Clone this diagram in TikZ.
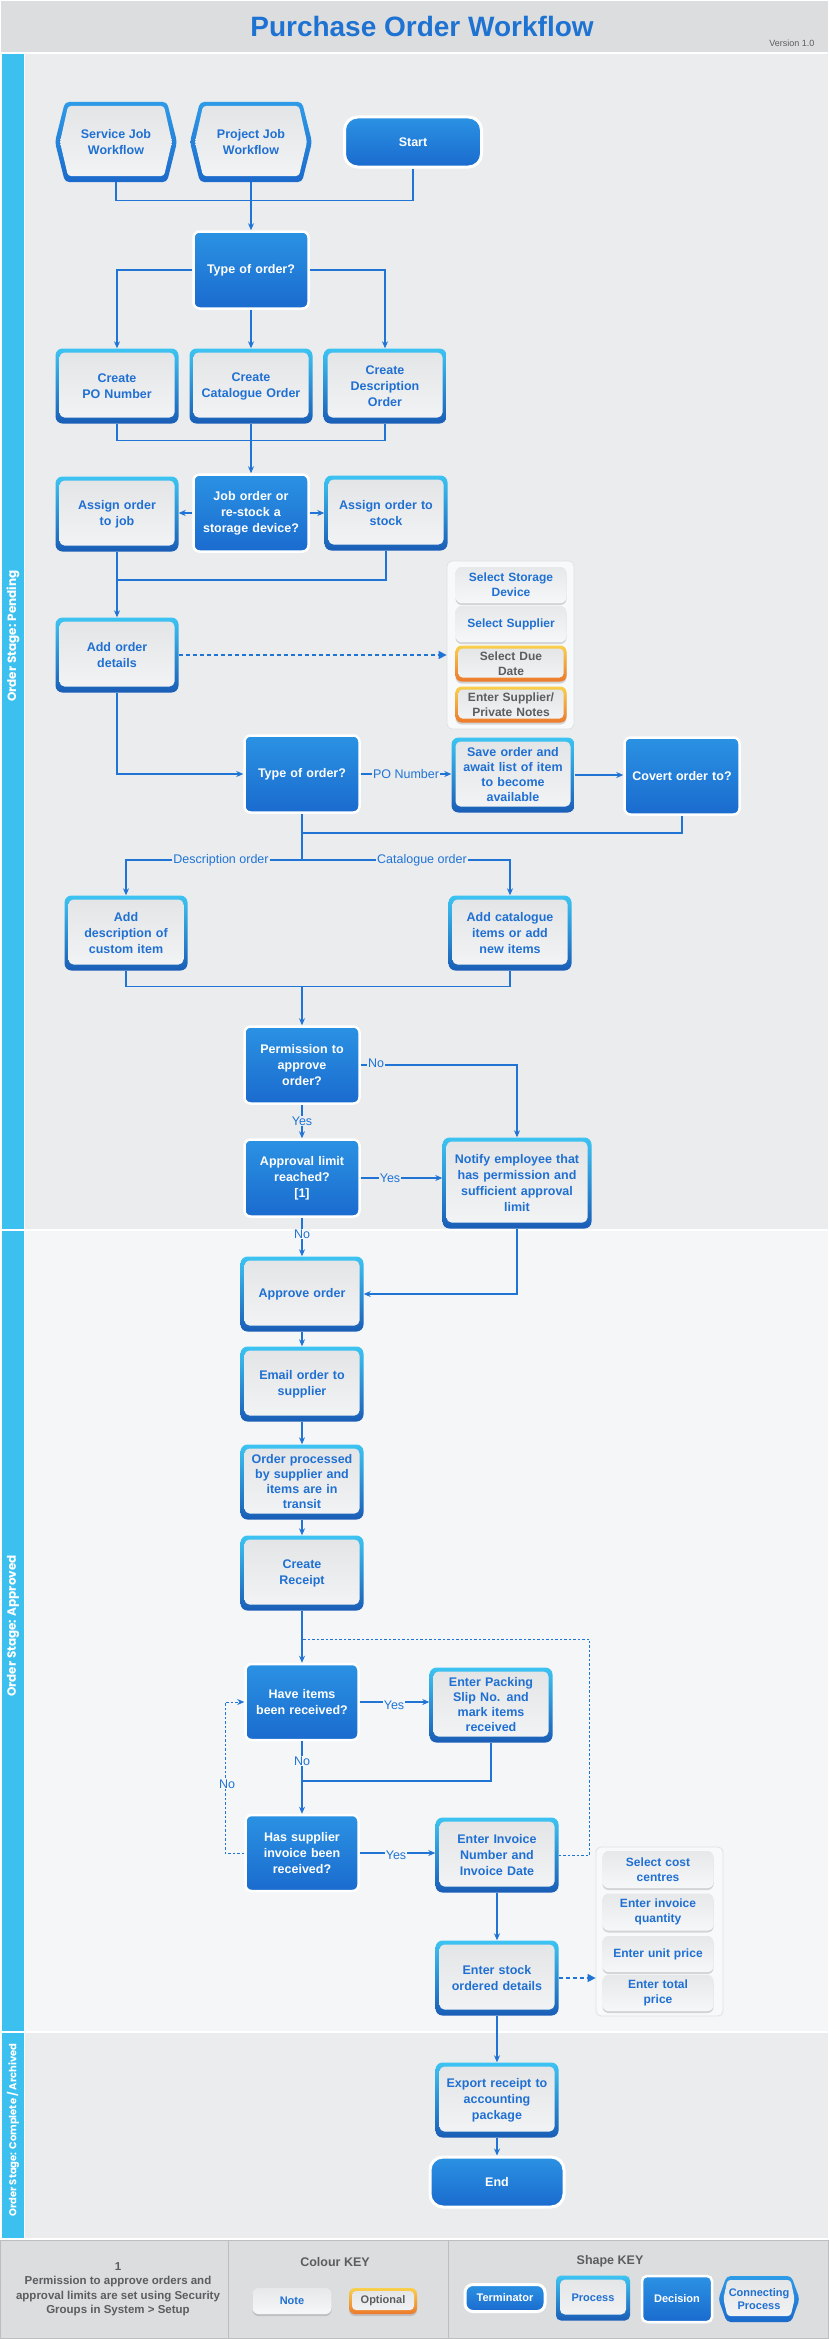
\documentclass[tikz,border=0pt]{standalone}
\usepackage{fontspec}
\setmainfont{Liberation Sans}
\newfontfamily\lanefont{Poppins}
\usetikzlibrary{arrows.meta,shapes.symbols,shadows,calc}
\definecolor{lineBlue}{HTML}{1F74D6}
\definecolor{titleBlue}{HTML}{1E73D2}
\definecolor{procText}{HTML}{1F70D2}
\definecolor{bordTop}{HTML}{3DC4F2}
\definecolor{bordBot}{HTML}{1A5DB6}
\definecolor{innerTop}{HTML}{E3E4E6}
\definecolor{innerBot}{HTML}{F3F4F6}
\definecolor{decTop}{HTML}{2B92E3}
\definecolor{decBot}{HTML}{1A6BCE}
\definecolor{laneBar}{HTML}{3BC0F0}
\definecolor{laneA}{HTML}{EBECEE}
\definecolor{laneB}{HTML}{F5F6F8}
\definecolor{headBg}{HTML}{DCDDDF}
\definecolor{keyLine}{HTML}{BDBEC0}
\definecolor{grayText}{HTML}{5B5D60}
\definecolor{noteTop}{HTML}{E7E8EA}
\definecolor{noteBot}{HTML}{F6F7F8}
\definecolor{optTop}{HTML}{F9D04C}
\definecolor{optBot}{HTML}{EC7A2C}
\definecolor{hexTop}{HTML}{2E9BE8}
\definecolor{hexBot}{HTML}{1C6ACB}
\definecolor{boxBg}{HTML}{F8F9FA}
\definecolor{boxLine}{HTML}{E0E1E3}
\begin{document}
\begin{tikzpicture}[x=1pt,y=-1pt,
  proc/.style={rectangle, rounded corners=7pt, minimum width=123pt, minimum height=75pt,
    inner sep=2pt, text width=117pt, align=center, top color=bordTop, bottom color=bordBot,
    font=\fontsize{12.5}{16}\selectfont\bfseries, text=procText,
    path picture={\shade[rounded corners=5pt, top color=innerTop, bottom color=innerBot]
      ([xshift=4pt,yshift=-4pt]path picture bounding box.north west) rectangle
      ([xshift=-4pt,yshift=6pt]path picture bounding box.south east);}},
  dec/.style={rectangle, rounded corners=6pt, minimum width=115pt, minimum height=77pt,
    inner sep=2pt, text width=109pt, align=center, top color=decTop, bottom color=decBot,
    draw=white, line width=2.5pt, text=white, font=\fontsize{12.5}{16}\selectfont\bfseries},
  term/.style={rectangle, rounded corners=13pt, minimum width=137pt, minimum height=50pt,
    inner sep=2pt, align=center, top color=decTop, bottom color=decBot,
    draw=white, line width=3pt, text=white, font=\fontsize{12.5}{16}\selectfont\bfseries},
  hex/.style={signal, signal to=west and east, signal pointer angle=152, minimum width=122pt,
    minimum height=80pt, inner sep=2pt, rounded corners=4pt,
    top color=hexTop, bottom color=hexBot, text=procText, align=center,
    font=\fontsize{12.5}{16}\selectfont\bfseries,
    path picture={\shade[rounded corners=3pt, top color=innerTop, bottom color=innerBot]
      ($(path picture bounding box.north west)+(#1,-4pt)$) --
      ($(path picture bounding box.north east)+(-#1,-4pt)$) --
      ($(path picture bounding box.east)+(-5pt,0pt)$) --
      ($(path picture bounding box.south east)+(-#1,6pt)$) --
      ($(path picture bounding box.south west)+(#1,6pt)$) --
      ($(path picture bounding box.west)+(5pt,0pt)$) -- cycle;}},
  hex/.default=13pt,
  note/.style={rectangle, rounded corners=6pt, minimum width=111pt, minimum height=36pt,
    inner sep=1pt, text width=107pt, align=center, top color=noteTop, bottom color=noteBot,
    drop shadow={shadow xshift=0pt, shadow yshift=-2pt, opacity=0.3},
    text=procText, font=\fontsize{12}{15}\selectfont\bfseries},
  opt/.style={note, top color=optTop, bottom color=optBot, text=grayText,
    path picture={\shade[rounded corners=4pt, top color=innerTop, bottom color=innerBot]
      ([xshift=3pt,yshift=-3pt]path picture bounding box.north west) rectangle
      ([xshift=-3pt,yshift=4pt]path picture bounding box.south east);}},
  grp/.style={rectangle, rounded corners=5pt, fill=boxBg, draw=boxLine, line width=0.8pt},
  conn/.style={draw=lineBlue, line width=1.2pt},
  arr/.style={conn, -{Stealth[length=7pt,width=6pt]}},
  dashbig/.style={conn, line width=1.3pt, dash pattern=on 4pt off 3pt, -{Triangle[length=8pt,width=8pt]}},
  dashthin/.style={conn, line width=1pt, dash pattern=on 2.5pt off 2pt},
  lab/.style={fill=laneA, inner sep=1pt, text=lineBlue, font=\fontsize{12.5}{14}\selectfont},
  labB/.style={lab, fill=laneB},
  lanelab/.style={rotate=90, text=white, font=\lanefont\fontsize{12}{14}\selectfont\bfseries},
  keytext/.style={text=grayText, align=center, font=\fontsize{11.5}{14.5}\selectfont\bfseries}
]
\useasboundingbox (0,0) rectangle (829,2339);
\fill[white] (0,0) rectangle (829,2339);
% header
\fill[headBg] (1,1) rectangle (828,52);
\node[anchor=base, text=titleBlue, font=\fontsize{28}{30}\selectfont\bfseries] (title) at (422,37) {Purchase Order Workflow};
\node[anchor=base east, text=grayText, font=\fontsize{9}{10}\selectfont] (ver) at (818,47) {Version 1.0};
% lanes
\fill[laneA] (25,54) rectangle (828,1229);
\fill[laneBar] (2,54) rectangle (24,1229);
\fill[laneB] (25,1231) rectangle (828,2031);
\fill[laneBar] (2,1231) rectangle (24,2031);
\fill[laneA] (25,2033) rectangle (828,2238);
\fill[laneBar] (2,2033) rectangle (24,2238);
\node[lanelab] (lane1) at (13,636) {Order Stage: Pending};
\node[lanelab] (lane2) at (13,1626) {Order Stage: Approved};
\node[lanelab, font=\lanefont\fontsize{10}{12}\selectfont\bfseries] (lane3) at (13,2130) {Order Stage: Complete / Archived};
% key band
\fill[headBg] (0,2240) rectangle (829,2339);
\draw[keyLine, line width=1pt] (0.5,2240) rectangle (828.5,2338.5);
\draw[keyLine, line width=1pt] (228,2240) -- (228,2339);
\draw[keyLine, line width=1pt] (448,2240) -- (448,2339);

% ---- Lane 1 nodes
\node[hex] (svc) at (116,142) {Service Job\\Workflow};
\node[hex] (prj) at (251,142) {Project Job\\Workflow};
\node[term] (start) at (413,142) {Start};
\node[dec] (t1) at (251,270) {Type of order?};
\node[proc] (cpo) at (117,386) {Create\\PO Number};
\node[proc] (ccat) at (251,386) {Create\\Catalogue Order};
\node[proc] (cdesc) at (385,386) {Create\\Description\\Order};
\node[dec] (jor) at (251,513) {Job order or\\re-stock a\\storage device?};
\node[proc] (ajob) at (117,514) {Assign order\\to job};
\node[proc] (astk) at (386,513) {Assign order to\\stock};
\node[proc] (aod) at (117,655) {Add order\\details};
\node[grp, minimum width=127pt, minimum height=168pt] (ng1) at (510.5,645) {};
\node[note] (n1) at (511,585) {Select Storage\\Device};
\node[note] (n2) at (511,624) {Select Supplier};
\node[opt] (n3) at (511,663.5) {Select Due\\Date};
\node[opt] (n4) at (511,704.5) {Enter Supplier/\\Private Notes};
\node[dec] (t2) at (302,774) {Type of order?};
\node[proc, font=\fontsize{12.5}{15}\selectfont\bfseries] (save) at (513,775) {Save order and\\await list of item\\to become\\available};
\node[dec] (covert) at (682,776) {Covert order to?};
\node[proc] (adesc) at (126,933) {Add\\description of\\custom item};
\node[proc] (acat) at (510,933) {Add catalogue\\items or add\\new items};
\node[dec] (perm) at (302,1065) {Permission to\\approve\\order?};
\node[dec] (alim) at (302,1178) {Approval limit\\reached?\\{[1]}};
\node[proc, minimum width=149pt, minimum height=91pt, text width=143pt] (notify) at (517,1183) {Notify employee that\\has permission and\\sufficient approval\\limit};

% ---- Lane 2 nodes
\node[proc] (appr) at (302,1294) {Approve order};
\node[proc] (email) at (302,1384) {Email order to\\supplier};
\node[proc, font=\fontsize{12.5}{15}\selectfont\bfseries] (oproc) at (302,1482) {Order processed\\by supplier and\\items are in\\transit};
\node[proc] (crec) at (302,1573) {Create\\Receipt};
\node[dec, minimum width=112pt, minimum height=76pt] (have) at (302,1702) {Have items\\been received?};
\node[proc, font=\fontsize{12.5}{15}\selectfont\bfseries] (pack) at (491,1705) {Enter Packing\\Slip No. and\\mark items\\received};
\node[dec, minimum width=113pt, minimum height=76pt] (hasi) at (302,1853) {Has supplier\\invoice been\\received?};
\node[proc] (inv) at (497,1855) {Enter Invoice\\Number and\\Invoice Date};
\node[proc] (stock) at (497,1978) {Enter stock\\ordered details};
\node[grp, minimum width=127pt, minimum height=169pt] (cg) at (659.5,1931.5) {};
\node[note, minimum height=37pt] (c1) at (658,1869.5) {Select cost\\centres};
\node[note, minimum height=37pt] (c2) at (658,1912) {Enter invoice\\quantity};
\node[note, minimum height=36pt] (c3) at (658,1954) {Enter unit price};
\node[note, minimum height=36pt] (c4) at (658,1993) {Enter total\\price};

% ---- Lane 3 nodes
\node[proc] (exp) at (497,2100) {Export receipt to\\accounting\\package};
\node[term, minimum width=134pt] (end) at (497,2182) {End};

% ---- Key
\node[keytext] (foot) at (118,2289) {1\\Permission to approve orders and\\approval limits are set using Security\\Groups in System > Setup};
\node[keytext, font=\fontsize{12.5}{14}\selectfont\bfseries] (ckey) at (335,2262) {Colour KEY};
\node[note, minimum width=79pt, minimum height=26pt, text width=75pt, font=\fontsize{11}{13}\selectfont\bfseries] (nk) at (292,2301) {Note};
\node[opt, minimum width=68pt, minimum height=26pt, text width=64pt, font=\fontsize{11}{13}\selectfont\bfseries] (ok) at (383,2301) {Optional};
\node[keytext, font=\fontsize{12.5}{14}\selectfont\bfseries] (skey) at (610,2261) {Shape KEY};
\node[term, minimum width=80pt, minimum height=27pt, rounded corners=8pt, font=\fontsize{11}{13}\selectfont\bfseries] (tk) at (505,2298) {Terminator};
\node[proc, minimum width=74pt, minimum height=45pt, text width=70pt, rounded corners=5pt, font=\fontsize{11}{13}\selectfont\bfseries] (pk) at (593,2298) {Process};
\node[dec, minimum width=70pt, minimum height=46pt, text width=64pt, rounded corners=5pt, font=\fontsize{11}{13}\selectfont\bfseries] (dk) at (677,2299) {Decision};
\node[hex=9pt, minimum width=72pt, minimum height=46pt, signal pointer angle=140, font=\fontsize{11}{13}\selectfont\bfseries] (hk) at (759,2299) {Connecting\\Process};

% ---- Connectors lane 1
\draw[conn] (svc.south) -- ++(0,18) -| (start.south);
\draw[arr] (prj.south) -- (t1.north);
\draw[arr] (t1.west) -| (cpo.north);
\draw[arr] (t1.south) -- (ccat.north);
\draw[arr] (t1.east) -| (cdesc.north);
\draw[conn] (cpo.south) -- ++(0,17) -| (cdesc.south);
\draw[arr] (ccat.south) -- (jor.north);
\draw[arr] (jor.west) -- (jor.west -| ajob.east);
\draw[arr] (jor.east) -- (jor.east -| astk.west);
\coordinate (m1) at (117,580);
\draw[conn] (astk.south) |- (m1);
\draw[arr] (ajob.south) -- (aod.north);
\draw[dashbig] (aod.east) -- (aod.east -| ng1.west);
\draw[arr] (aod.south) |- (t2.west);
\draw[arr] (t2.east) -- node[lab] (lpo) {PO Number} (t2.east -| save.west);
\draw[arr] (save.east) -- (save.east -| covert.west);
\coordinate (m2) at (302,833);
\draw[conn] (covert.south) |- (m2);
\coordinate (br) at (302,860);
\draw[conn] (t2.south) -- (br);
\draw[arr] (br) -| (adesc.north);
\draw[arr] (br) -| (acat.north);
\node[lab] (ldesc) at (221,860) {Description order};
\node[lab] (lcat) at (422,860) {Catalogue order};
\coordinate (m3) at (302,987);
\draw[conn] (adesc.south) -- ++(0,16) -| (acat.south);
\draw[arr] (m3) -- (perm.north);
\draw[arr] (perm.east) -| (notify.north);
\node[lab] (lno1) at (376,1063) {No};
\draw[arr] (perm.south) -- (alim.north);
\node[lab] (lyes1) at (302,1121) {Yes};
\draw[arr] (alim.east) -- (alim.east -| notify.west);
\node[lab] (lyes2) at (390,1178) {Yes};
\draw[arr] (alim.south) -- (appr.north);
\node[labB] (lno2) at (302,1234) {No};
\draw[arr] (notify.south) |- (appr.east);

% ---- Connectors lane 2
\draw[arr] (appr.south) -- (email.north);
\draw[arr] (email.south) -- (oproc.north);
\draw[arr] (oproc.south) -- (crec.north);
\draw[arr] (crec.south) -- (have.north);
\coordinate (j1) at (302,1639);
\draw[dashthin] (inv.east) -- ++(31,0) |- (j1);
\draw[arr] (have.east) -- (have.east -| pack.west);
\node[labB] (lyes3) at (394,1705) {Yes};
\draw[arr] (have.south) -- (hasi.north);
\node[labB] (lno3) at (302,1761) {No};
\coordinate (m4) at (302,1781);
\draw[conn] (pack.south) |- (m4);
\draw[dashthin, -{Stealth[length=7pt,width=6pt]}] (hasi.west) -- ++(-19,0) |- (have.west);
\node[labB] (lno4) at (227,1784) {No};
\draw[arr] (hasi.east) -- (hasi.east -| inv.west);
\node[labB] (lyes4) at (396,1855) {Yes};
\draw[arr] (inv.south) -- (stock.north);
\draw[dashbig] (stock.east) -- (stock.east -| cg.west);
\draw[arr] (stock.south) -- (exp.north);
\draw[arr] (exp.south) -- (end.north);
\end{tikzpicture}
\end{document}
